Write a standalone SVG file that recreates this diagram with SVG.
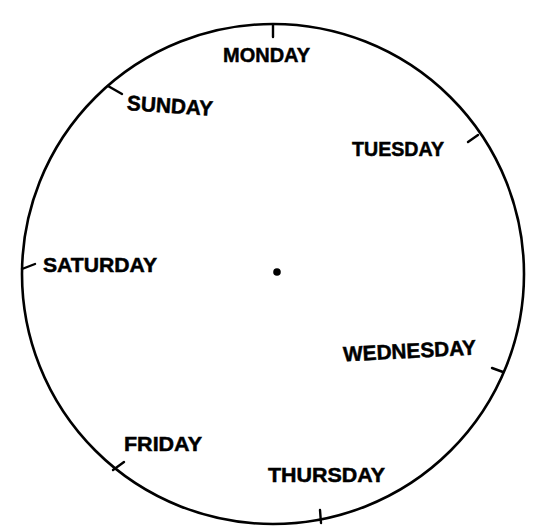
<svg xmlns="http://www.w3.org/2000/svg" width="554" height="531" viewBox="0 0 554 531">
  <style>
    .rim { fill: none; stroke: #000; stroke-width: 2.6; }
    .tick { stroke: #000; stroke-width: 2.4; stroke-linecap: round; }
    .day { font-family: "Liberation Sans", Arial, sans-serif; font-weight: bold; font-size: 21px; fill: #000; stroke: #000; stroke-width: 0.5; }
  </style>
  <rect width="554" height="531" fill="#fff"/>
  <g id="dial">
    <ellipse class="rim" cx="273" cy="274" rx="251" ry="250"/>
    <circle cx="277" cy="272" r="3.8" fill="#000"/>
  </g>
  <g id="ticks">
    <line class="tick" x1="273" y1="25" x2="273" y2="37"/>
    <line class="tick" x1="108" y1="86" x2="122" y2="94"/>
    <line class="tick" x1="478" y1="135" x2="468" y2="142"/>
    <line class="tick" x1="22" y1="269" x2="35" y2="264"/>
    <line class="tick" x1="503" y1="372" x2="492" y2="368"/>
    <line class="tick" x1="321" y1="523" x2="320" y2="510"/>
    <line class="tick" x1="113" y1="470" x2="124" y2="462"/>
  </g>
  <g id="monday"><text class="day" x="223" y="62" textLength="87" lengthAdjust="spacingAndGlyphs">MONDAY</text></g>
  <g id="sunday"><text class="day" x="127" y="113" textLength="86" lengthAdjust="spacingAndGlyphs" transform="rotate(4 170 106)">SUNDAY</text></g>
  <g id="tuesday"><text class="day" x="352" y="156" textLength="92" lengthAdjust="spacingAndGlyphs">TUESDAY</text></g>
  <g id="saturday"><text class="day" x="43" y="272" textLength="114" lengthAdjust="spacingAndGlyphs">SATURDAY</text></g>
  <g id="wednesday"><text class="day" x="343" y="358" textLength="133" lengthAdjust="spacingAndGlyphs" transform="rotate(-3 410 350)">WEDNESDAY</text></g>
  <g id="thursday"><text class="day" x="268" y="482" textLength="117" lengthAdjust="spacingAndGlyphs">THURSDAY</text></g>
  <g id="friday"><text class="day" x="124" y="451" textLength="78" lengthAdjust="spacingAndGlyphs">FRIDAY</text></g>
</svg>
